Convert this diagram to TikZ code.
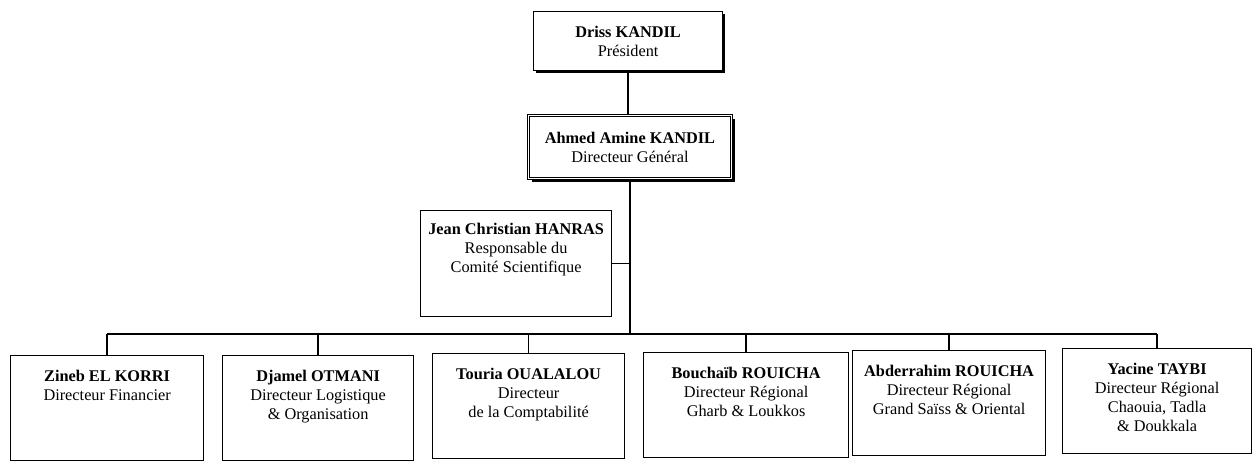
\documentclass[tikz,border=0pt]{standalone}
\usepackage{fontspec}
\setmainfont{Liberation Serif}
\usetikzlibrary{shadows}
\begin{document}
\begin{tikzpicture}[x=1pt,y=-1pt,
  box/.style={draw, line width=1.2pt, fill=white, inner sep=0pt, anchor=north west},
  shbox/.style={box, drop shadow={shadow xshift=2.5pt, shadow yshift=-2.5pt, fill=black, opacity=1}},
  dbox/.style={box, double, double distance=1.6pt, line width=0.9pt, drop shadow={shadow xshift=3.5pt, shadow yshift=-3.5pt, fill=black, opacity=1}},
  txt/.style={align=center, font=\fontsize{16.3}{19}\selectfont, inner sep=0pt},
  wire/.style={line width=1.5pt}]
\useasboundingbox (0,0) rectangle (1253,466);

% boxes
\node[shbox, minimum width=189pt, minimum height=59pt] (pres) at (533,11) {};
\node[dbox, minimum width=203pt, minimum height=63pt] (dg) at (528,115) {};
\node[box, minimum width=191pt, minimum height=106pt] (cs) at (420,210) {};
\node[box, minimum width=193pt, minimum height=105pt] (fin) at (10,355) {};
\node[box, minimum width=191pt, minimum height=105pt] (log) at (222,355) {};
\node[box, minimum width=192pt, minimum height=105pt] (cpt) at (432,353) {};
\node[box, minimum width=205pt, minimum height=105pt] (gh) at (643,352) {};
\node[box, minimum width=193pt, minimum height=105pt] (gs) at (852,350) {};
\node[box, minimum width=189pt, minimum height=105pt] (ch) at (1062,348) {};

% texts
\node[txt] (prest) at (pres.center) {\textbf{Driss KANDIL}\\Président};
\node[txt] (dgt) at (dg.center) {\textbf{Ahmed Amine KANDIL}\\Directeur Général};
\node[txt, anchor=north] (cst) at ([yshift=-13pt]cs.north) {\textbf{Jean Christian HANRAS}\\Responsable du\\Comité Scientifique};
\node[txt, anchor=north] (fint) at ([yshift=-15pt]fin.north) {\textbf{Zineb EL KORRI}\\Directeur Financier};
\node[txt, anchor=north] (logt) at ([yshift=-15pt]log.north) {\textbf{Djamel OTMANI}\\Directeur Logistique\\\& Organisation};
\node[txt, anchor=north] (cptt) at ([yshift=-15pt]cpt.north) {\textbf{Touria OUALALOU}\\Directeur\\de la Comptabilité};
\node[txt, anchor=north] (ght) at ([yshift=-15pt]gh.north) {\textbf{Bouchaïb ROUICHA}\\Directeur Régional\\Gharb \& Loukkos};
\node[txt, anchor=north] (gst) at ([yshift=-15pt]gs.north) {\textbf{Abderrahim ROUICHA}\\Directeur Régional\\Grand Saïss \& Oriental};
\node[txt, anchor=north] (cht) at ([yshift=-15pt]ch.north) {\textbf{Yacine TAYBI}\\Directeur Régional\\Chaouia, Tadla\\\& Doukkala};

% connectors
\coordinate (bus) at (630,334);
\draw[wire] (pres.south) -- (pres.south |- dg.north);
\draw[wire] (dg.south) -- (dg.south |- bus);
\draw[wire] (cs.east) -- (cs.east -| dg.south);
\draw[wire, line width=1.8pt] (fin.north |- bus) -- (ch.north |- bus);
\foreach \b in {fin,log,cpt,gh,gs,ch}
  \draw[wire] (\b.north) -- (\b.north |- bus);
\end{tikzpicture}
\end{document}
